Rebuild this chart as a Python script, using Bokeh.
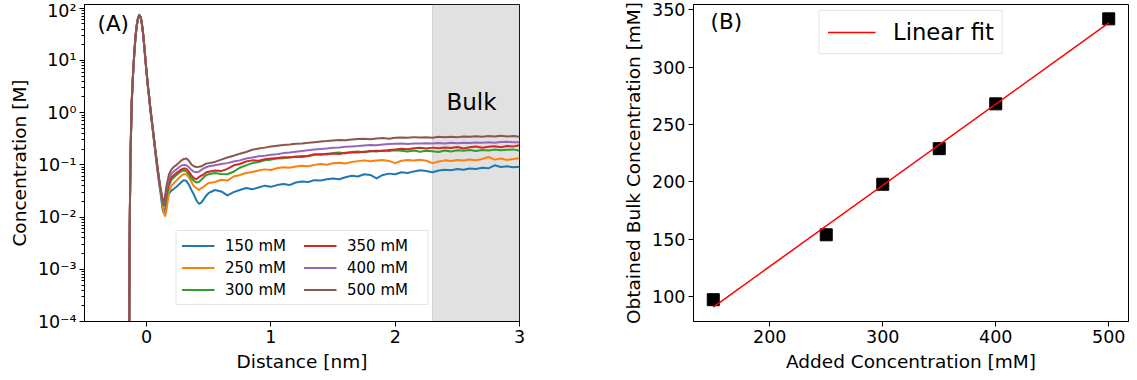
import numpy as np
from bokeh.plotting import figure
from bokeh.layouts import row
from bokeh.models import (Range1d, FixedTicker, CustomJSTickFormatter, BoxAnnotation,
                          Label, Legend, LegendItem)
from bokeh.embed import file_html
from bokeh.resources import INLINE

# ---------------- Panel (A) data: concentration profiles [M] vs distance [nm] ----------------
X_NM = [-0.142, -0.138, -0.135, -0.13, -0.12, -0.11, -0.10, -0.09, -0.08, -0.07, -0.06, -0.05,
        -0.04, -0.03, -0.02, -0.01,
        0.00, 0.01, 0.02, 0.03, 0.04, 0.05, 0.06, 0.07, 0.08, 0.09, 0.10, 0.11, 0.12, 0.13, 0.14,
        0.15, 0.16,
        0.18, 0.20, 0.22, 0.24, 0.26, 0.28, 0.30, 0.32, 0.34, 0.36, 0.38, 0.40, 0.42, 0.44, 0.46,
        0.48, 0.50,
        0.55, 0.60, 0.65, 0.70, 0.75, 0.80, 0.85, 0.90, 0.95, 1.00,
        1.05, 1.10, 1.15, 1.20, 1.25, 1.30, 1.35, 1.40, 1.45, 1.50,
        1.55, 1.60, 1.65, 1.70, 1.75, 1.80, 1.85, 1.90, 1.95, 2.00,
        2.05, 2.10, 2.15, 2.20, 2.25, 2.30, 2.35, 2.40, 2.45, 2.50,
        2.55, 2.60, 2.65, 2.70, 2.75, 2.80, 2.85, 2.90, 2.95, 3.00]

C150 = [1e-6, 0.002, 0.011, 0.14, 1.5, 5.0, 12.5, 27, 45, 62, 73, 68, 53, 34, 19, 10.0,
        5.5, 3.1, 1.9, 1.1, 0.70, 0.44, 0.27, 0.17, 0.105, 0.068, 0.045, 0.031,
        0.020, 0.0135, 0.0118, 0.015, 0.021,
        0.028, 0.032, 0.035, 0.038, 0.042, 0.047, 0.051, 0.049, 0.042, 0.033, 0.027, 0.021,
        0.018, 0.019, 0.022, 0.026, 0.029,
        0.033, 0.031, 0.026, 0.030, 0.033, 0.036, 0.034, 0.037, 0.040, 0.038,
        0.041, 0.043, 0.041, 0.046, 0.048, 0.047, 0.051, 0.050, 0.053, 0.055,
        0.053, 0.058, 0.062, 0.060, 0.066, 0.064, 0.055, 0.064, 0.068, 0.066,
        0.072, 0.070, 0.075, 0.079, 0.076, 0.072, 0.078, 0.081, 0.079, 0.083,
        0.081, 0.085, 0.083, 0.088, 0.086, 0.098, 0.091, 0.094, 0.090, 0.092]

C250 = [1e-6, 0.002, 0.012, 0.15, 1.6, 5.1, 13, 28, 46, 63, 74, 69, 54, 35, 20, 10.3,
        5.7, 3.2, 2.0, 1.2, 0.75, 0.47, 0.29, 0.18, 0.115, 0.075, 0.050, 0.034,
        0.023, 0.016, 0.0115, 0.0105, 0.014,
        0.030, 0.040, 0.045, 0.050, 0.056, 0.062, 0.067, 0.066, 0.058, 0.047, 0.039, 0.036,
        0.033, 0.036, 0.038, 0.042, 0.045,
        0.047, 0.052, 0.050, 0.060, 0.064, 0.070, 0.073, 0.078, 0.082, 0.080,
        0.086, 0.090, 0.088, 0.093, 0.096, 0.094, 0.100, 0.104, 0.101, 0.107,
        0.110, 0.106, 0.114, 0.118, 0.122, 0.117, 0.121, 0.124, 0.119, 0.108,
        0.120, 0.124, 0.121, 0.125, 0.120, 0.108, 0.116, 0.122, 0.119, 0.124,
        0.121, 0.127, 0.123, 0.130, 0.142, 0.126, 0.133, 0.124, 0.130, 0.134]

C300 = [1e-6, 0.002, 0.012, 0.15, 1.6, 5.2, 13, 28, 46, 63, 74, 69, 54, 35, 20, 10.4,
        5.7, 3.2, 2.0, 1.2, 0.75, 0.47, 0.29, 0.185, 0.118, 0.077, 0.051, 0.035,
        0.025, 0.018, 0.0165, 0.018, 0.024,
        0.040, 0.052, 0.058, 0.064, 0.070, 0.076, 0.078, 0.075, 0.066, 0.055, 0.049, 0.046,
        0.047, 0.052, 0.058, 0.064, 0.066,
        0.070, 0.067, 0.066, 0.074, 0.088, 0.098, 0.108, 0.114, 0.122, 0.126,
        0.132, 0.134, 0.140, 0.142, 0.148, 0.146, 0.156, 0.162, 0.158, 0.168,
        0.172, 0.166, 0.176, 0.180, 0.174, 0.184, 0.180, 0.188, 0.184, 0.190,
        0.186, 0.180, 0.188, 0.178, 0.186, 0.182, 0.176, 0.188, 0.180, 0.190,
        0.186, 0.192, 0.184, 0.192, 0.188, 0.196, 0.190, 0.194, 0.198, 0.186]

C350 = [1e-6, 0.002, 0.012, 0.15, 1.6, 5.2, 13, 28, 46, 63, 74, 69, 54, 35, 20, 10.5,
        5.8, 3.3, 2.0, 1.2, 0.76, 0.48, 0.30, 0.19, 0.12, 0.079, 0.052, 0.036,
        0.026, 0.019, 0.018, 0.021, 0.029,
        0.046, 0.058, 0.064, 0.070, 0.075, 0.082, 0.085, 0.084, 0.074, 0.063, 0.056, 0.053,
        0.058, 0.062, 0.066, 0.072, 0.074,
        0.078, 0.076, 0.084, 0.098, 0.104, 0.116, 0.122, 0.120, 0.128, 0.132,
        0.136, 0.140, 0.138, 0.145, 0.142, 0.150, 0.160, 0.156, 0.164, 0.166,
        0.162, 0.170, 0.174, 0.172, 0.178, 0.182, 0.186, 0.184, 0.192, 0.198,
        0.204, 0.200, 0.208, 0.212, 0.206, 0.214, 0.208, 0.216, 0.210, 0.220,
        0.206, 0.218, 0.224, 0.212, 0.222, 0.228, 0.218, 0.230, 0.226, 0.238]

C400 = [1e-6, 0.002, 0.012, 0.15, 1.6, 5.2, 13, 28, 46, 63, 74, 69, 54, 35, 20, 10.5,
        5.8, 3.3, 2.0, 1.2, 0.76, 0.48, 0.30, 0.19, 0.12, 0.080, 0.053, 0.037,
        0.027, 0.020, 0.019, 0.024, 0.034,
        0.055, 0.068, 0.076, 0.082, 0.090, 0.097, 0.100, 0.098, 0.090, 0.080, 0.074, 0.072,
        0.074, 0.080, 0.086, 0.090, 0.094,
        0.098, 0.104, 0.108, 0.116, 0.122, 0.132, 0.138, 0.146, 0.150, 0.156,
        0.160, 0.168, 0.172, 0.178, 0.184, 0.190, 0.196, 0.202, 0.206, 0.212,
        0.216, 0.222, 0.226, 0.230, 0.236, 0.240, 0.238, 0.246, 0.250, 0.254,
        0.256, 0.252, 0.258, 0.256, 0.260, 0.256, 0.262, 0.258, 0.264, 0.260,
        0.266, 0.262, 0.268, 0.264, 0.270, 0.266, 0.274, 0.278, 0.272, 0.270]

C500 = [1e-6, 0.0022, 0.013, 0.16, 1.7, 5.4, 13.5, 29, 47, 64, 75, 70, 55, 36, 21, 11,
        6.0, 3.4, 2.1, 1.25, 0.78, 0.50, 0.31, 0.20, 0.125, 0.082, 0.055, 0.038,
        0.028, 0.021, 0.020, 0.027, 0.040,
        0.066, 0.082, 0.092, 0.100, 0.110, 0.122, 0.130, 0.132, 0.120, 0.102, 0.094, 0.091,
        0.092, 0.094, 0.100, 0.106, 0.108,
        0.114, 0.126, 0.138, 0.150, 0.164, 0.176, 0.195, 0.205, 0.214, 0.225,
        0.232, 0.240, 0.246, 0.254, 0.258, 0.264, 0.272, 0.280, 0.286, 0.294,
        0.300, 0.296, 0.306, 0.312, 0.318, 0.310, 0.320, 0.326, 0.318, 0.330,
        0.336, 0.330, 0.340, 0.334, 0.340, 0.332, 0.344, 0.338, 0.346, 0.340,
        0.350, 0.344, 0.352, 0.346, 0.356, 0.348, 0.360, 0.350, 0.356, 0.346]

SERIES_LABELS = ["150 mM", "250 mM", "300 mM", "350 mM", "400 mM", "500 mM"]
SERIES_VALUES = [C150, C250, C300, C350, C400, C500]
SERIES_COLORS = ["#1f77b4", "#ff7f0e", "#2ca02c", "#d62728", "#9467bd", "#8c564b"]
BULK_START_NM = 2.30
A_XTICKS = [0, 1, 2, 3]
A_YTICKS = [1e-4, 1e-3, 1e-2, 1e-1, 1, 10, 100]

# ---------------- Panel (B) data ----------------
ADDED_MM = [150, 250, 300, 350, 400, 500]
OBTAINED_MM = [97.5, 154, 198, 229, 268, 342]
B_XTICKS = [200, 300, 400, 500]
B_YTICKS = [100, 150, 200, 250, 300, 350]

for s in SERIES_VALUES:
    assert len(s) == len(X_NM), (len(s), len(X_NM))

FONT = "DejaVu Sans"


def style(p):
    p.background_fill_color = "white"
    p.border_fill_color = "white"
    p.outline_line_color = "black"
    p.outline_line_width = 1
    p.xgrid.grid_line_color = None
    p.ygrid.grid_line_color = None
    for ax in (p.xaxis[0], p.yaxis[0]):
        ax.axis_line_color = "black"
        ax.major_tick_line_color = "black"
        ax.minor_tick_line_color = "black"
        ax.major_tick_out = 5
        ax.major_tick_in = 0
        ax.minor_tick_out = 3
        ax.minor_tick_in = 0
        ax.major_label_text_font = FONT
        ax.major_label_text_font_size = "17.5px"
        ax.major_label_text_color = "black"
        ax.axis_label_text_font = FONT
        ax.axis_label_text_font_size = "18.5px"
        ax.axis_label_text_font_style = "normal"
        ax.axis_label_text_color = "black"
        ax.major_label_standoff = 3
        ax.axis_label_standoff = 5


# ---------------- Panel (A) ----------------
p1 = figure(frame_width=435, frame_height=317,
            min_border_left=84, min_border_right=41, min_border_top=4, min_border_bottom=59,
            x_range=Range1d(-0.5, 3.0), y_range=Range1d(1e-4, 118), y_axis_type="log",
            output_backend="svg", toolbar_location=None)
style(p1)
p1.xaxis.axis_label = "Distance [nm]"
p1.yaxis.axis_label = "Concentration [M]"
p1.xaxis.ticker = FixedTicker(ticks=A_XTICKS, minor_ticks=[])
minor = [m * d for d in A_YTICKS[:-1] for m in range(2, 10)]
p1.yaxis.ticker = FixedTicker(ticks=A_YTICKS, minor_ticks=minor)
p1.yaxis.formatter = CustomJSTickFormatter(code="""
const sup = {"-":"\\u207b","0":"\\u2070","1":"\\u00b9","2":"\\u00b2","3":"\\u00b3",
             "4":"\\u2074","5":"\\u2075","6":"\\u2076","7":"\\u2077","8":"\\u2078","9":"\\u2079"};
const e = Math.round(Math.log10(tick));
return "10" + String(e).split("").map(c => sup[c]).join("");
""")

p1.add_layout(BoxAnnotation(left=BULK_START_NM, fill_color="#808080", fill_alpha=0.24,
                            line_color="#808080", line_alpha=0.25, level="underlay"))

items1 = []
for lab, ys, col in zip(SERIES_LABELS, SERIES_VALUES, SERIES_COLORS):
    r = p1.line(X_NM, ys, line_color=col, line_width=2, line_join="round")
    items1.append(LegendItem(label=lab, renderers=[r]))

leg1 = Legend(items=items1, ncols=2, location="bottom_center", margin=16, padding=5,
              spacing=3, glyph_width=33, glyph_height=19, label_height=19, label_width=75,
              label_standoff=11, label_text_font=FONT, label_text_font_size="15px",
              label_text_color="black", border_line_color="#cccccc", border_line_width=1,
              background_fill_color="white", background_fill_alpha=0.8)
p1.add_layout(leg1)

p1.add_layout(Label(x=13, y=298, x_units="screen", y_units="screen", text="(A)",
                    text_font=FONT, text_font_size="21.5px", text_baseline="middle",
                    text_color="black"))
p1.add_layout(Label(x=362, y=220, x_units="screen", y_units="screen", text="Bulk",
                    text_font=FONT, text_font_size="23px", text_baseline="alphabetic",
                    text_color="black"))

# ---------------- Panel (B) ----------------
p2 = figure(frame_width=435, frame_height=317,
            min_border_left=133, min_border_right=9, min_border_top=4, min_border_bottom=59,
            x_range=Range1d(132.5, 517.5), y_range=Range1d(78.5, 354.5),
            output_backend="svg", toolbar_location=None)
style(p2)
p2.xaxis.axis_label = "Added Concentration [mM]"
p2.yaxis.axis_label = "Obtained Bulk Concentration [mM]"
p2.xaxis.ticker = FixedTicker(ticks=B_XTICKS, minor_ticks=[])
p2.yaxis.ticker = FixedTicker(ticks=B_YTICKS, minor_ticks=[])

p2.scatter(ADDED_MM, OBTAINED_MM, marker="square", size=12, fill_color="black",
           line_color="black")
coef = np.polyfit(ADDED_MM, OBTAINED_MM, 1)
fit_x = [ADDED_MM[0], ADDED_MM[-1]]
fit_y = list(np.polyval(coef, fit_x))
rfit = p2.line(fit_x, fit_y, line_color="red", line_width=1.5)

leg2 = Legend(items=[LegendItem(label="Linear fit", renderers=[rfit])], location="top_center",
              margin=6, padding=8, glyph_width=48, glyph_height=26, label_height=26,
              label_standoff=18, label_text_font=FONT, label_text_font_size="22.7px",
              label_text_color="black", border_line_color="#cccccc", border_line_width=1,
              background_fill_color="white", background_fill_alpha=0.8)
p2.add_layout(leg2)

p2.add_layout(Label(x=17, y=300, x_units="screen", y_units="screen", text="(B)",
                    text_font=FONT, text_font_size="21.5px", text_baseline="middle",
                    text_color="black"))

layout = row(p1, p2)
open("out.html", "w", encoding="utf-8").write(file_html(layout, INLINE))
